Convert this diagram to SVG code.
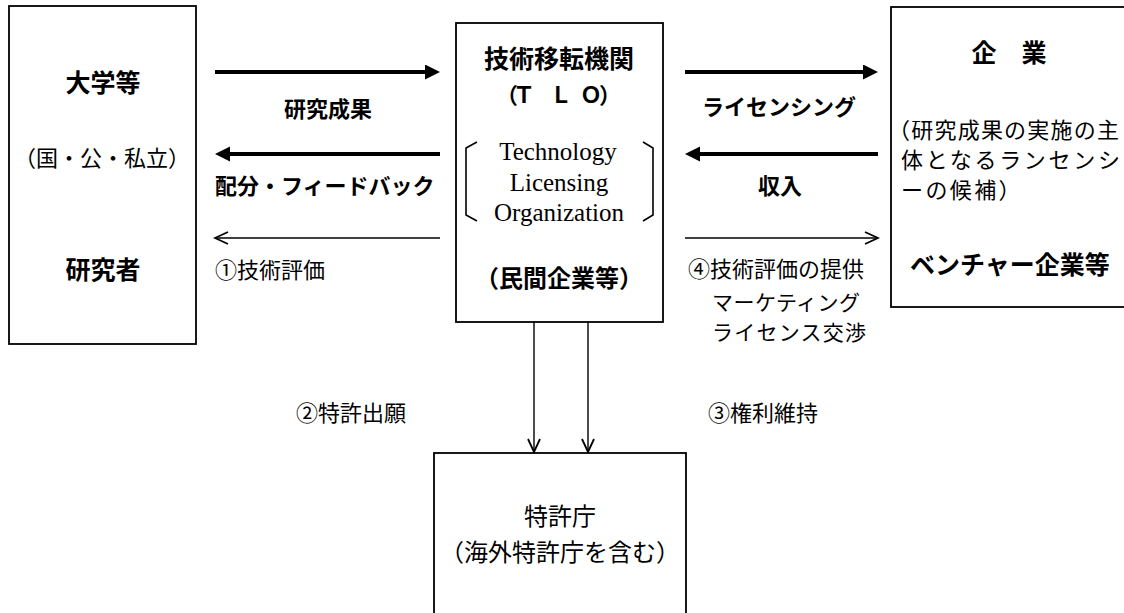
<svg xmlns="http://www.w3.org/2000/svg" width="1124" height="613" viewBox="0 0 1124 613">
<style>
.box{fill:none;stroke:#000;stroke-width:1.8}
.b{font-family:"Liberation Sans","Noto Sans CJK JP",sans-serif;font-weight:700;fill:#000}
.n{font-family:"Liberation Sans","Noto Sans CJK JP",sans-serif;font-weight:400;fill:#000}
.ser{font-family:"Liberation Serif","Noto Sans CJK JP",serif;font-size:25px;fill:#000}
.m{text-anchor:middle}
.thick{stroke:#000;stroke-width:4;fill:none}
.thin{stroke:#000;stroke-width:1.4;fill:none}
.brk{stroke:#000;stroke-width:1.6;fill:none}
</style>
<defs>
<marker id="headBold" markerUnits="userSpaceOnUse" markerWidth="16" markerHeight="16" viewBox="0 0 16 16" refX="3" refY="7.5" orient="auto">
<path d="M0,0 L15,7.5 L0,15 z" fill="#000"/>
</marker>
<marker id="headThin" markerUnits="userSpaceOnUse" markerWidth="16" markerHeight="16" viewBox="0 0 16 16" refX="14" refY="7" orient="auto">
<path d="M1,1 L14,7 L1,13" fill="none" stroke="#000" stroke-width="1.8"/>
</marker>
</defs>

<g id="connectors">
<line class="thick" x1="215" y1="72" x2="428" y2="72" marker-end="url(#headBold)"/>
<line class="thick" x1="440" y1="154" x2="227" y2="154" marker-end="url(#headBold)"/>
<line class="thin" x1="440" y1="238" x2="215" y2="238" marker-end="url(#headThin)"/>
<line class="thick" x1="685" y1="72" x2="866" y2="72" marker-end="url(#headBold)"/>
<line class="thick" x1="878" y1="154" x2="697" y2="154" marker-end="url(#headBold)"/>
<line class="thin" x1="685" y1="238" x2="878" y2="238" marker-end="url(#headThin)"/>
<line class="thin" x1="534" y1="322" x2="534" y2="452" marker-end="url(#headThin)"/>
<line class="thin" x1="588" y1="322" x2="588" y2="452" marker-end="url(#headThin)"/>
<text class="b m" x="328" y="117" font-size="22">研究成果</text>
<text class="b" x="215" y="194" font-size="22">配分・フィードバック</text>
<text class="n" x="215" y="278" font-size="22">①技術評価</text>
<text class="b m" x="779" y="115" font-size="22">ライセンシング</text>
<text class="b m" x="780" y="194" font-size="22">収入</text>
<text class="n" x="688" y="277" font-size="22">④技術評価の提供</text>
<text class="n" x="712" y="310" font-size="21" textLength="148" lengthAdjust="spacing">マーケティング</text>
<text class="n" x="712" y="340" font-size="21" textLength="154" lengthAdjust="spacing">ライセンス交渉</text>
<text class="n" x="296" y="421" font-size="22">②特許出願</text>
<text class="n" x="708" y="421" font-size="22">③権利維持</text>
</g>

<g id="university">
<rect class="box" x="9" y="6" width="187" height="338"/>
<text class="b m" x="103" y="92" font-size="25">大学等</text>
<text class="n m" x="102" y="166" font-size="22">（国・公・私立）</text>
<text class="b m" x="103" y="279" font-size="25">研究者</text>
</g>

<g id="tlo">
<rect class="box" x="456" y="23" width="207" height="299"/>
<text class="b m" x="559" y="68" font-size="25">技術移転機関</text>
<text class="b m" x="507 524 561 591 610" y="103" font-size="22">（ＴＬＯ）</text>
<path class="brk" d="M477,142 L466,148 L466,215 L477,221"/>
<path class="brk" d="M643,142 L653,148 L653,215 L643,221"/>
<text class="ser m" x="558" y="160">Technology</text>
<text class="ser m" x="559" y="191">Licensing</text>
<text class="ser m" x="559" y="221">Organization</text>
<text class="b m" x="559" y="287" font-size="24">（民間企業等）</text>
</g>

<g id="company">
<rect class="box" x="891" y="7" width="250" height="300"/>
<text class="b m" x="1009" y="62" font-size="25">企　業</text>
<text class="n" x="888" y="138" font-size="22" textLength="231" lengthAdjust="spacing">（研究成果の実施の主</text>
<text class="n" x="901" y="168" font-size="22" textLength="219" lengthAdjust="spacing">体となるランセンシ</text>
<text class="n" x="901" y="198" font-size="22" letter-spacing="2.4">ーの候補）</text>
<text class="b m" x="1010" y="274" font-size="25">ベンチャー企業等</text>
</g>

<g id="patent-office">
<rect class="box" x="434" y="453" width="252" height="200"/>
<text class="n m" x="560" y="525" font-size="24">特許庁</text>
<text class="n m" x="560" y="561" font-size="24">（海外特許庁を含む）</text>
</g>
</svg>
